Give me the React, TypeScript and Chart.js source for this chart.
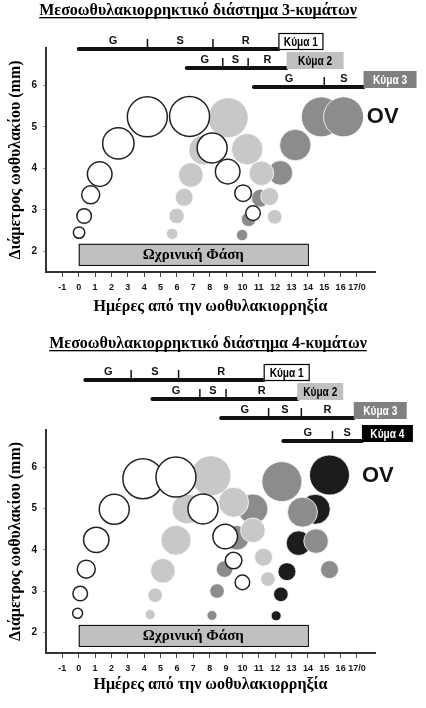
import React, { useEffect, useRef } from 'react';
import { Chart, registerables } from 'chart.js';
Chart.register(...registerables);

// ---------- shared axis data ----------
const xTickValues = [-1, 0, 1, 2, 3, 4, 5, 6, 7, 8, 9, 10, 11, 12, 13, 14, 15, 16, 17];
const xTickLabels = ['-1', '0', '1', '2', '3', '4', '5', '6', '7', '8', '9', '10', '11', '12', '13', '14', '15', '16', '17/0'];
const yTickValues = [2, 3, 4, 5, 6];
const xTitle = 'Ημέρες από την ωοθυλακιορρηξία';
const yTitle = 'Διάμετρος ωοθυλακίου (mm)';
const lutealLabel = 'Ωχρινική Φάση';
const lutealDays = [0, 14];
const ovLabel = 'OV';

// ---------- chart A: 3 waves ----------
const aTitle = 'Μεσοωθυλακιορρηκτικό διάστημα 3-κυμάτων';
const aW1Days = [0.02, 0.33, 0.73, 1.28, 2.42, 4.19, 6.77, 8.15, 9.1, 10.04, 10.65];
const aW1Diam = [2.45, 2.85, 3.36, 3.86, 4.6, 5.24, 5.25, 4.49, 3.92, 3.4, 2.92];
const aW1Size = [5.7, 7.3, 9, 12.3, 15.7, 20, 20, 15, 12.3, 8.3, 7.3];
const aW2Days = [5.71, 5.98, 6.44, 6.85, 7.64, 9.13, 10.29, 11.16, 11.67, 11.97];
const aW2Diam = [2.42, 2.85, 3.3, 3.84, 4.44, 5.22, 4.46, 3.88, 3.32, 2.83];
const aW2Size = [5.7, 7.7, 9, 12.3, 15, 20, 15.7, 12.3, 9, 7.3];
const aW3Days = [9.98, 10.38, 11.1, 12.32, 13.23, 14.82, 16.18];
const aW3Diam = [2.39, 2.77, 3.28, 3.89, 4.56, 5.24, 5.24];
const aW3Size = [5.7, 7.3, 9, 12.3, 15.7, 20, 20];
const aWaveNames = ['Κύμα 1', 'Κύμα 2', 'Κύμα 3'];
const aWavePhases = [['G', 'S', 'R'], ['G', 'S', 'R'], ['G', 'S']];
const aWaveBounds = [[0, 4.2, 8.2, 12.2], [6.6, 8.8, 10.35, 12.7], [10.7, 15.0, 17.4]];
const aOvPos = [17.6, 5.23];

// ---------- chart B: 4 waves ----------
const bTitle = 'Μεσοωθυλακιορρηκτικό διάστημα 4-κυμάτων';
const bW1Days = [-0.07, 0.09, 0.46, 1.07, 2.17, 3.92, 5.94, 7.59, 8.95, 9.46, 10.0];
const bW1Diam = [2.46, 2.94, 3.53, 4.24, 4.98, 5.72, 5.76, 4.99, 4.32, 3.74, 3.21];
const bW1Size = [5, 7.3, 9, 12.7, 15, 20, 20, 15, 12.3, 8.3, 7.3];
const bW2Days = [4.37, 4.67, 5.14, 5.94, 6.61, 8.08, 9.46, 10.64, 11.29, 11.56];
const bW2Diam = [2.43, 2.9, 3.49, 4.23, 4.99, 5.79, 5.15, 4.47, 3.82, 3.29];
const bW2Size = [5, 7.3, 12.3, 15, 15, 20, 15, 12.3, 9, 7.3];
const bW3Days = [8.14, 8.45, 8.91, 9.66, 10.64, 12.41, 13.67, 14.5, 15.32];
const bW3Diam = [2.41, 3.0, 3.53, 4.29, 4.99, 5.65, 4.91, 4.21, 3.52];
const bW3Size = [5, 7.3, 8.3, 12.3, 15, 20, 15, 12.3, 9];
const bW4Days = [12.06, 12.35, 12.72, 13.43, 14.45, 15.32];
const bW4Diam = [2.4, 2.92, 3.47, 4.16, 4.98, 5.81];
const bW4Size = [5, 7.3, 9, 12.3, 15, 20];
const bWaveNames = ['Κύμα 1', 'Κύμα 2', 'Κύμα 3', 'Κύμα 4'];
const bWavePhases = [['G', 'S', 'R'], ['G', 'S', 'R'], ['G', 'S', 'R'], ['G', 'S']];
const bWaveBounds = [[0.4, 3.2, 6.1, 11.3], [4.5, 7.4, 9.0, 13.35], [8.7, 11.6, 13.6, 16.8], [12.5, 15.5, 17.3]];
const bOvPos = [17.3, 5.78];

// ---------- styles ----------
const SERIF = '"Liberation Serif", "Times New Roman", serif';
const SANS = '"Liberation Sans", Arial, sans-serif';
const waveStyles = [
  { fill: '#ffffff', border: '#222222', bw: 1.5, boxFill: '#ffffff', boxStroke: '#000', boxText: '#000' },
  { fill: '#c8c8c8', border: '#ffffff', bw: 0.8, boxFill: '#c0c0c0', boxStroke: null, boxText: '#000' },
  { fill: '#8c8c8c', border: '#ffffff', bw: 0.8, boxFill: '#808080', boxStroke: null, boxText: '#fff' },
  { fill: '#1c1c1c', border: '#ffffff', bw: 0.8, boxFill: '#000000', boxStroke: null, boxText: '#fff' },
];

type Cfg = {
  title: string; titleX: number; titleY: number;
  series: { days: number[]; diam: number[]; size: number[] }[];
  names: string[]; phases: string[][]; bounds: number[][];
  barYs: number[]; boxW: number[];
  ov: number[]; padTop: number; xAxisH: number; height: number;
};

const cfgA: Cfg = {
  title: aTitle, titleX: 198, titleY: 15,
  series: [
    { days: aW1Days, diam: aW1Diam, size: aW1Size },
    { days: aW2Days, diam: aW2Diam, size: aW2Size },
    { days: aW3Days, diam: aW3Diam, size: aW3Size },
  ],
  names: aWaveNames, phases: aWavePhases, bounds: aWaveBounds,
  barYs: [49, 68, 87], boxW: [45, 57, 53],
  ov: aOvPos, padTop: 48, xAxisH: 58, height: 330,
};
const cfgB: Cfg = {
  title: bTitle, titleX: 208, titleY: 18,
  series: [
    { days: bW1Days, diam: bW1Diam, size: bW1Size },
    { days: bW2Days, diam: bW2Diam, size: bW2Size },
    { days: bW3Days, diam: bW3Diam, size: bW3Size },
    { days: bW4Days, diam: bW4Diam, size: bW4Size },
  ],
  names: bWaveNames, phases: bWavePhases, bounds: bWaveBounds,
  barYs: [50, 69, 88, 111], boxW: [46, 46, 53, 51],
  ov: bOvPos, padTop: 100, xAxisH: 55, height: 378,
};

function makeChart(canvas: HTMLCanvasElement, cfg: Cfg) {
  const datasets = cfg.series.map((s, i) => ({
    label: cfg.names[i],
    data: s.days.map((d, j) => ({ x: d, y: s.diam[j], r: s.size[j] })),
    backgroundColor: waveStyles[i].fill,
    borderColor: waveStyles[i].border,
    borderWidth: waveStyles[i].bw,
    hoverRadius: 0,
    clip: false as any,
  }));

  const overlay = {
    id: 'overlay',
    afterDraw(chart: any) {
      const ctx = chart.ctx as CanvasRenderingContext2D;
      const xs = chart.scales.x;
      const ys = chart.scales.y;
      ctx.save();
      // title with underline
      ctx.font = `bold 16px ${SERIF}`;
      ctx.fillStyle = '#000';
      ctx.textAlign = 'center';
      ctx.textBaseline = 'alphabetic';
      ctx.fillText(cfg.title, cfg.titleX, cfg.titleY);
      const tw = ctx.measureText(cfg.title).width;
      ctx.fillRect(cfg.titleX - tw / 2, cfg.titleY + 2, tw, 1.3);

      // luteal phase box
      const lx0 = xs.getPixelForValue(lutealDays[0]);
      const lx1 = xs.getPixelForValue(lutealDays[1]);
      const ly0 = ys.getPixelForValue(2.18);
      const ly1 = ys.getPixelForValue(1.67);
      ctx.fillStyle = '#c0c0c0';
      ctx.fillRect(lx0, ly0, lx1 - lx0, ly1 - ly0);
      ctx.strokeStyle = '#000';
      ctx.lineWidth = 1;
      ctx.strokeRect(lx0 + 0.5, ly0 + 0.5, lx1 - lx0, ly1 - ly0);
      ctx.fillStyle = '#000';
      ctx.font = `bold 15px ${SERIF}`;
      ctx.textBaseline = 'middle';
      ctx.fillText(lutealLabel, (lx0 + lx1) / 2, (ly0 + ly1) / 2 + 1);

      // wave bars
      cfg.bounds.forEach((b, i) => {
        const y = cfg.barYs[i];
        const px = b.map((v) => xs.getPixelForValue(v));
        ctx.strokeStyle = '#111';
        ctx.lineCap = 'round';
        ctx.lineWidth = 4;
        ctx.beginPath();
        ctx.moveTo(px[0], y);
        ctx.lineTo(px[px.length - 1], y);
        ctx.stroke();
        ctx.lineCap = 'butt';
        ctx.lineWidth = 1.5;
        for (let k = 1; k < px.length - 1; k++) {
          ctx.beginPath();
          ctx.moveTo(px[k], y - 1);
          ctx.lineTo(px[k], y - 10);
          ctx.stroke();
        }
        ctx.fillStyle = '#111';
        ctx.font = `bold 11px ${SANS}`;
        ctx.textAlign = 'center';
        ctx.textBaseline = 'middle';
        cfg.phases[i].forEach((p, k) => {
          ctx.fillText(p, (px[k] + px[k + 1]) / 2, y - 8);
        });
        // wave name box
        const st = waveStyles[i];
        const bx = px[px.length - 1];
        const bw = cfg.boxW[i];
        const bh = 17;
        const by = y - 16;
        ctx.fillStyle = st.boxFill;
        ctx.fillRect(bx, by, bw, bh);
        if (st.boxStroke) {
          ctx.strokeStyle = st.boxStroke;
          ctx.lineWidth = 1.2;
          ctx.strokeRect(bx + 0.5, by + 0.5, bw - 1, bh - 1);
        }
        ctx.fillStyle = st.boxText;
        ctx.font = `bold 13px ${SANS}`;
        // condensed lettering
        ctx.save();
        ctx.translate(bx + bw / 2, by + bh / 2 + 0.5);
        ctx.scale(0.78, 1);
        ctx.fillText(cfg.names[i], 0, 0);
        ctx.restore();
      });

      // OV label
      ctx.fillStyle = '#111';
      ctx.font = `bold 22px ${SANS}`;
      ctx.textAlign = 'left';
      ctx.textBaseline = 'middle';
      ctx.fillText(ovLabel, xs.getPixelForValue(cfg.ov[0]), ys.getPixelForValue(cfg.ov[1]));
      ctx.restore();
    },
  };

  return new Chart(canvas, {
    type: 'bubble',
    data: { datasets: datasets as any },
    plugins: [overlay],
    options: {
      responsive: false,
      animation: false,
      events: [],
      layout: { padding: { top: cfg.padTop, right: 51, bottom: 0, left: 0 } },
      plugins: { legend: { display: false }, tooltip: { enabled: false }, title: { display: false } },
      scales: {
        x: {
          type: 'linear',
          min: -2,
          max: 18.1,
          afterBuildTicks: (s: any) => { s.ticks = xTickValues.map((v) => ({ value: v })); },
          afterFit: (s: any) => { s.height = cfg.xAxisH; },
          ticks: {
            autoSkip: false,
            maxRotation: 0,
            minRotation: 0,
            padding: 5,
            color: '#111',
            font: { family: SANS, size: 9, weight: 'bold' },
            callback: (v: any) => {
              const idx = xTickValues.indexOf(Number(v));
              return idx >= 0 ? xTickLabels[idx] : '';
            },
          },
          grid: { display: true, drawOnChartArea: false, drawTicks: true, tickLength: 5, color: '#444', lineWidth: 1 },
          border: { display: true, color: '#333', width: 2 },
          title: {
            display: true,
            text: xTitle,
            color: '#000',
            font: { family: SERIF, size: 16, weight: 'bold' },
            padding: { top: 0, bottom: 14 },
          },
        },
        y: {
          type: 'linear',
          min: 1.5,
          max: 6.9,
          afterBuildTicks: (s: any) => { s.ticks = yTickValues.map((v) => ({ value: v })); },
          afterFit: (s: any) => { s.width = 46; },
          ticks: {
            padding: 6,
            color: '#111',
            font: { family: SANS, size: 10, weight: 'bold' },
          },
          grid: { display: true, drawOnChartArea: false, drawTicks: true, tickLength: 3, color: '#999', lineWidth: 1 },
          border: { display: true, color: '#333', width: 2 },
          title: {
            display: true,
            text: yTitle,
            color: '#000',
            font: { family: SERIF, size: 16, weight: 'bold' },
            padding: { top: 6, bottom: 0 },
          },
        },
      },
    } as any,
  });
}

export default function App() {
  const refA = useRef<HTMLCanvasElement>(null);
  const refB = useRef<HTMLCanvasElement>(null);
  useEffect(() => {
    document.body.style.margin = '0';
    document.body.style.overflow = 'hidden';
    const a = makeChart(refA.current!, cfgA);
    const b = makeChart(refB.current!, cfgB);
    return () => { a.destroy(); b.destroy(); };
  }, []);
  return (
    <div style={{ position: 'absolute', left: 0, top: 0, width: 426, height: 708, background: '#fff' }}>
      <canvas ref={refA} width={426} height={330} style={{ position: 'absolute', left: 0, top: 0, width: 426, height: 330 }} />
      <canvas ref={refB} width={426} height={378} style={{ position: 'absolute', left: 0, top: 330, width: 426, height: 378 }} />
    </div>
  );
}
